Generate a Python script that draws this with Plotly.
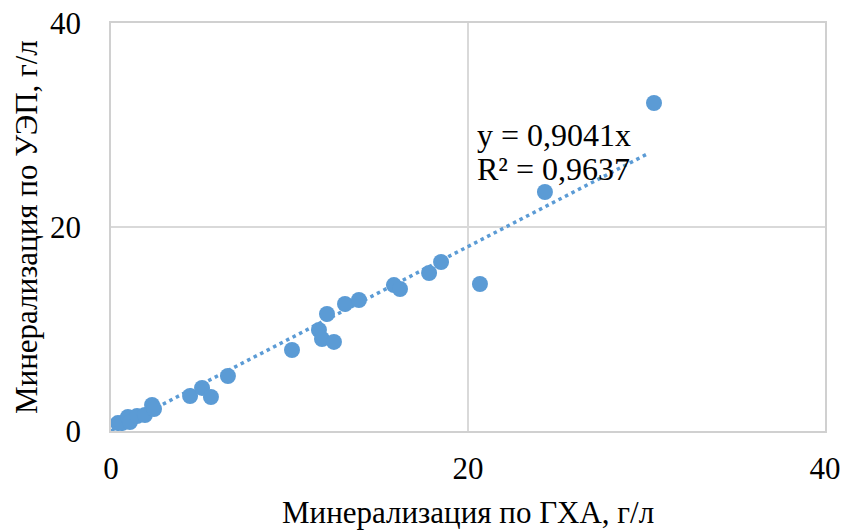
import plotly.graph_objects as go

gxa = [0.39, 0.62, 0.95, 1.06, 1.46, 1.90, 2.30, 2.41, 4.43, 5.10, 5.60, 6.55,
       10.14, 11.65, 11.82, 12.49, 12.10, 13.11, 13.89, 15.85, 16.19, 17.82,
       18.49, 20.67, 24.31, 30.42]
uep = [0.78, 0.78, 1.37, 0.88, 1.47, 1.57, 2.55, 2.16, 3.43, 4.22, 3.33, 5.39,
       7.94, 9.90, 9.02, 8.73, 11.47, 12.45, 12.84, 14.31, 13.92, 15.49,
       16.57, 14.41, 23.43, 32.16]
slope = 0.9041
r2 = 0.9637
trend_x = [0, 30.1]
trend_y = [slope * v for v in trend_x]
eq_lines = ["y = 0,9041x", "R² = 0,9637"]
x_title = "Минерализация по ГХА, г/л"
y_title = "Минерализация по УЭП, г/л"

blue = "#5B9BD5"
font = "Liberation Serif, Times New Roman, serif"
FS = 31

fig = go.Figure()
fig.add_trace(go.Scatter(x=trend_x, y=trend_y, mode="lines",
                         line=dict(color=blue, width=3.5, dash="3.5px,3.8px"),
                         hoverinfo="skip", showlegend=False))
fig.add_trace(go.Scatter(x=gxa, y=uep, mode="markers",
                         marker=dict(color=blue, size=16, line=dict(width=0)),
                         showlegend=False))

# trendline equation label
fig.add_annotation(x=20.4, y=29.0, xref="x", yref="y", xanchor="left", yanchor="middle",
                   text=eq_lines[0], showarrow=False,
                   font=dict(family=font, size=32, color="black"))
fig.add_annotation(x=20.4, y=25.7, xref="x", yref="y", xanchor="left", yanchor="middle",
                   text=eq_lines[1], showarrow=False,
                   font=dict(family=font, size=32, color="black"))

# axis titles
fig.add_annotation(x=0.5, y=-(512 - 431) / 408, xref="paper", yref="paper",
                   xanchor="center", yanchor="middle", text=x_title, showarrow=False,
                   font=dict(family=font, size=FS, color="black"))
fig.add_annotation(x=(26 - 111) / 714, y=0.5, xref="paper", yref="paper",
                   xanchor="center", yanchor="middle", text=y_title, showarrow=False,
                   textangle=-90, font=dict(family=font, size=FS, color="black"))

axis_common = dict(range=[0, 40], tickvals=[0, 20, 40], showgrid=True,
                   gridcolor="#d9d9d9", gridwidth=1.5, zeroline=False,
                   showline=True, mirror=True, linecolor="#d0d0d0", linewidth=1.5,
                   tickfont=dict(family=font, size=FS, color="black"),
                   ticks="outside", tickcolor="rgba(0,0,0,0)", automargin=False,
                   ticklabeloverflow="allow")
fig.update_xaxes(**axis_common, ticklen=9)
fig.update_yaxes(**axis_common, ticklen=22)
fig.update_layout(width=846, height=530, margin=dict(l=111, r=21, t=23, b=99),
                  plot_bgcolor="white", paper_bgcolor="white")
fig.write_html("out.html", config={"displayModeBar": False},
               post_script="document.body.style.margin='0';document.body.style.overflow='hidden';")
